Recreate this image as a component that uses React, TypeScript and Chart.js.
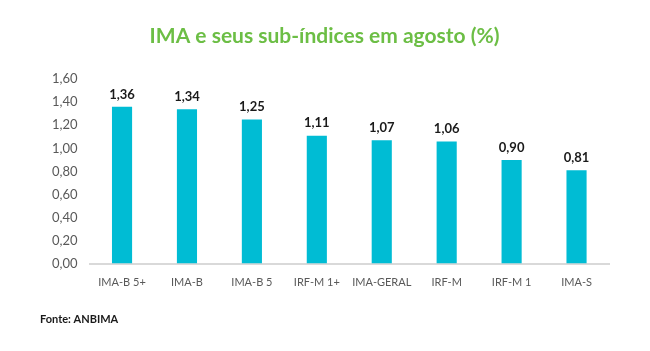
import React, { useEffect, useRef } from "react";
import { Chart, registerables } from "chart.js";

Chart.register(...registerables);

const categories = ["IMA-B 5+", "IMA-B", "IMA-B 5", "IRF-M 1+", "IMA-GERAL", "IRF-M", "IRF-M 1", "IMA-S"];
const values = [1.36, 1.34, 1.25, 1.11, 1.07, 1.06, 0.9, 0.81];
const titleText = "IMA e seus sub-índices em agosto (%)";
const sourceText = "Fonte: ANBIMA";

const fmt = (v: number) => v.toFixed(2).replace(".", ",");

const labelPlugin = {
  id: "barLabels",
  afterDatasetsDraw(chart: any) {
    const ctx = chart.ctx;
    const meta = chart.getDatasetMeta(0);
    ctx.save();
    ctx.font = "bold 13px Lato, 'Open Sans', sans-serif";
    ctx.fillStyle = "#1a1a1a";
    ctx.textAlign = "center";
    ctx.textBaseline = "bottom";
    meta.data.forEach((bar: any, i: number) => {
      ctx.fillText(fmt(values[i]), bar.x, bar.y - 6);
    });
    ctx.restore();
  },
};

export default function App() {
  const ref = useRef<HTMLCanvasElement>(null);
  useEffect(() => {
    document.body.style.margin = "0";
    const chart = new Chart(ref.current!, {
      type: "bar",
      data: {
        labels: categories,
        datasets: [
          {
            data: values,
            backgroundColor: "#00BCD4",
            barPercentage: 0.31,
            categoryPercentage: 1,
          },
        ],
      },
      options: {
        animation: false,
        responsive: false,
        layout: { padding: { left: 40, right: 41, top: 0, bottom: 0 } },
        plugins: {
          legend: { display: false },
          tooltip: { enabled: false },
          title: {
            display: true,
            text: titleText,
            color: "#6CBE45",
            font: { family: "Lato, 'Open Sans', sans-serif", size: 21, weight: "bold" },
            padding: { top: 24, bottom: 30 },
          },
          subtitle: {
            display: true,
            text: sourceText,
            position: "bottom",
            align: "start",
            color: "#1a1a1a",
            font: { family: "Lato, 'Open Sans', sans-serif", size: 11, weight: "bold" },
            padding: { top: 12, bottom: 25 },
          },
        },
        scales: {
          x: {
            grid: { display: false, drawTicks: false },
            border: { display: true, color: "#d9d9d9", width: 2 },
            ticks: {
              color: "#595959",
              maxRotation: 0,
              minRotation: 0,
              autoSkip: false,
              font: { family: "Lato, 'Open Sans', sans-serif", size: 11 },
              padding: 12,
            },
          },
          y: {
            min: 0,
            max: 1.6,
            grid: { display: false, drawTicks: false },
            border: { display: false },
            ticks: {
              stepSize: 0.2,
              color: "#595959",
              padding: 12,
              font: { family: "Lato, 'Open Sans', sans-serif", size: 13 },
              callback: (v: any) => fmt(Number(v)),
            },
          },
        },
      },
      plugins: [labelPlugin],
    });
    return () => chart.destroy();
  }, []);
  return <canvas ref={ref} width={650} height={351} />;
}
